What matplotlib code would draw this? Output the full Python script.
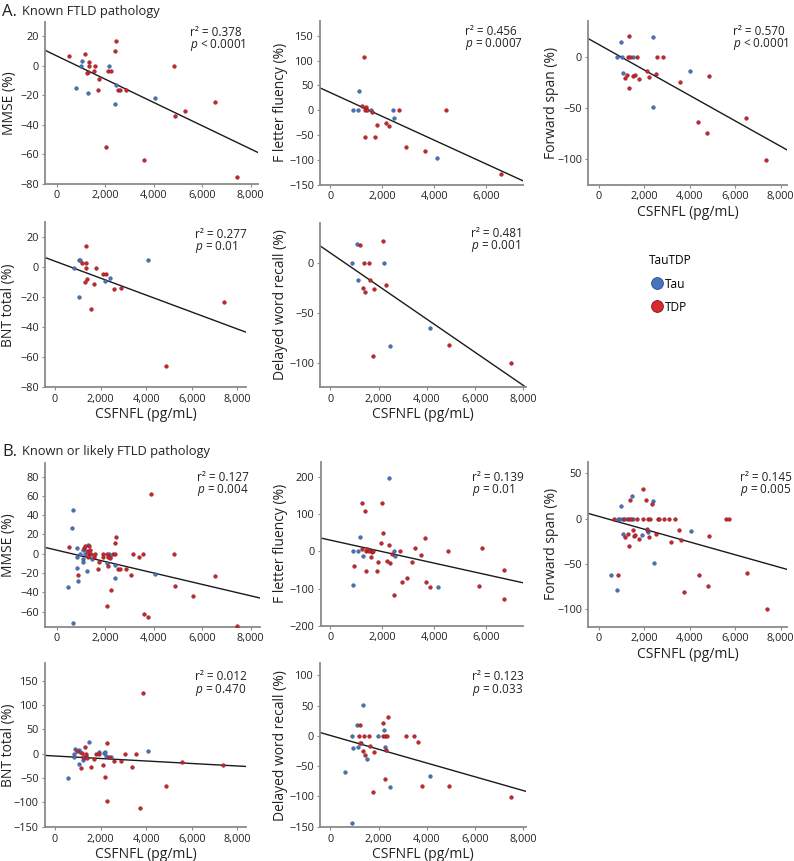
import matplotlib
matplotlib.use("Agg")
import matplotlib.pyplot as plt
from matplotlib.ticker import FuncFormatter
from matplotlib.lines import Line2D
import numpy as np

plt.rcParams['font.family'] = ['Open Sans', 'DejaVu Sans']
plt.rcParams['mathtext.fontset'] = 'custom'
plt.rcParams['mathtext.it'] = 'Open Sans:italic'
plt.rcParams['mathtext.rm'] = 'Open Sans'

TAU = '#4a70b8'
TDP = '#c8252d'

# ---- A. Known FTLD pathology ----
mmse_a_tau_x = [1058, 1003, 811, 1292, 2172, 2433, 2405, 4069]
mmse_a_tau_y = [3.4, 0, -15, -18.4, 0, -12.8, -25.6, -22.2]
mmse_a_tdp_x = [522, 1168, 1347, 1347, 1278, 1265, 1594, 1540, 1760, 1691, 2103, 2227,
                2392, 2460, 2543, 2612, 2859, 2048, 4825, 4893, 5306, 6543, 3601, 7450]
mmse_a_tdp_y = [6.5, 8.1, 2.7, 0, -4, -5, 0, -3.6, -9.2, -16.6, -3.6, -3.8,
                10.1, 16.9, -16.2, -16.6, -16.6, -54.8, 0, -34.2, -30.8, -24.3, -63.6, -75.3]

flf_a_tau_x = [859, 1064, 1103, 1564, 2423, 2461, 4102]
flf_a_tau_y = [0, 0, 39.5, 0, 0, -16, -95.8]
flf_a_tdp_x = [1308, 1205, 1372, 1320, 1423, 1590, 1346, 1731, 1795, 2154, 2256, 2628,
               2897, 3654, 4449, 6564]
flf_a_tdp_y = [107.8, 8.7, 6, 0, 0, -4, -53.6, -53, -30, -25, -32, 0,
               -73, -81.7, 0, -128]

fwd_a_tau_x = [807, 969, 1028, 1072, 1512, 2363, 2393, 4022]
fwd_a_tau_y = [0, 14, 0, -16.2, 0, 19.2, -49, -14.3]
fwd_a_tdp_x = [1160, 1248, 1336, 1292, 1380, 1307, 1512, 1571, 1688, 1747, 2099, 2187,
               2496, 2569, 2833, 3582, 4375, 4771, 4830, 6489, 7355]
fwd_a_tdp_y = [-20.8, -17.5, 19.8, 0, 0, -30.5, -19.2, -17.5, 0, -21.8, -14.3, -20.1,
               -16.6, 0, 0, -24.4, -63.3, -74.7, -19.2, -59.7, -100.6]

bnt_a_tau_x = [848, 1038, 1038, 1111, 2179, 2428, 4066]
bnt_a_tau_y = [-0.7, -19.8, 4.7, 4.7, -9.1, -7.1, 4.7]
bnt_a_tdp_x = [1185, 1346, 1360, 1375, 1419, 1316, 1726, 1594, 1784, 2121, 2238, 2603,
               2881, 7415, 4885]
bnt_a_tdp_y = [2.9, 13.8, 2.9, -0.7, -7.8, -9.6, -11.1, -27.8, -0.7, -4.4, -4.9, -14.9,
               -14.2, -23.3, -66]

dwr_a_tau_x = [884, 1092, 1147, 2239, 2488, 4146]
dwr_a_tau_y = [0, 19, -17.7, 0, -83.7, -65.3]
dwr_a_tdp_x = [1244, 1382, 1603, 1354, 1451, 1645, 1824, 2184, 2294, 1783, 4934, 7504]
dwr_a_tdp_y = [18, 0, 0, -25.3, -29.7, -17.3, -26, 21.7, -22.3, -93, -82.7, -100.7]

# ---- B. Known or likely FTLD pathology ----
mmse_b_tau_x = [660, 481, 619, 660, 825, 853, 880, 853, 963, 1073, 1100, 1100, 1183, 1265,
                1279, 1444, 2063, 2173, 2393, 2420, 4070, 2200]
mmse_b_tau_y = [45.5, -34.5, 27.2, -71.7, 5.5, -14.8, -28.3, -3.1, 0, 4.1, -5.5, -9, -0.7,
                -18.3, 8.6, -5.2, -9.7, 0, -24.8, -12.1, -21.4, -3.8]
mmse_b_tdp_x = [522, 866, 1141, 1183, 1265, 1320, 1347, 1375, 1402, 1292, 1554, 1595, 1691,
                1760, 1925, 1925, 2063, 2131, 2200, 2131, 2255, 2063, 2338, 2393, 2393, 2462,
                2530, 2599, 2860, 3066, 3163, 3383, 3548, 3603, 3754, 3905, 4826, 4881, 5610,
                6545, 7453]
mmse_b_tdp_y = [7.2, -22, 5.5, 8.3, 2.4, 0, 7.6, 3.4, 0, -3.4, -3.4, 0, -16.2,
                -8.6, 0, -3.4, 0, -3.8, -4.5, -13.1, -37.9, -53.8, 0, 0, 10.7, 17.2,
                -15.5, -16.2, -16.2, -22, 0, -3.8, 0, -62, -65.2, 62, 0, -33.4, -44.1,
                -23.4, -74.5]

flf_b_tau_x = [885, 885, 1077, 1141, 1244, 1590, 2269, 2461, 2487, 4154]
flf_b_tau_y = [0, -90.7, 0, 39, -11.6, 0, 195.6, 0, -13.3, -95]
flf_b_tdp_x = [923, 1218, 1218, 1346, 1372, 1372, 1423, 1474, 1551, 1603, 1654, 1782, 1833,
               1949, 2000, 2013, 2180, 2256, 2308, 2385, 2436, 2667, 2743, 2961, 3141, 3244,
               3474, 3628, 3692, 3846, 4513, 5718, 5833, 6692, 6667]
flf_b_tdp_y = [-39, 130.7, 6.2, 107.6, 0, -53.3, 6.2, 0, -15.1, -1.8, 0, -53.3, -29.3,
               22.2, 128.9, 48, -24.9, 16, -31.1, -6.2, -117.3, 0, -82.7, -72, -29.3, 9.8,
               -9.8, 36.4, -80.9, -96, 0, -92.4, 9.8, -48.9, -127]

fwd_b_tau_x = [514, 807, 837, 984, 1072, 925, 1072, 1218, 1468, 1512, 1908, 2129, 2173, 2393,
               2422, 4066]
fwd_b_tau_y = [-63, -79.6, 0, 14, -16.7, 0, 0, 0, 24.8, 0, -17.8, -11.1, -14.8, 19.6,
               -49.3, -14.4]
fwd_b_tdp_x = [661, 851, 1101, 1160, 1277, 1307, 1336, 1351, 1395, 1512, 1556, 1585, 1688,
               1747, 1923, 1938, 2070, 2099, 2173, 2246, 2217, 2319, 2496, 2584, 2657, 2848,
               3068, 3156, 3347, 3523, 3597, 3743, 4404, 4800, 4859, 5593, 5710, 6518, 7399]
fwd_b_tdp_y = [0, -63, 0, -20.4, -17.4, 0, -30.7, 20, 0, -13, -19.3, -17.8, 0,
               -22.2, 0, 32.2, 20, -13, 0, 0, -20.4, 15.9, -16.7, 0, 0, 0,
               0, -25.6, 0, -12.2, -24.1, -81.9, -63, -74.4, -19.6, 0, 0, -60, -100.7]

bnt_b_tau_x = [556, 834, 834, 892, 1038, 1097, 1038, 1214, 1287, 1360, 1477, 1945, 2150, 2208,
               2238, 2442, 4066]
bnt_b_tau_y = [-50, -6.2, -0.7, 10.3, 7.5, 4.1, -19.9, -13, -9.6, -4.8, 24.7, 3.4, 0.7, 3.4,
               -4.8, -7.5, 5.5]
bnt_b_tdp_x = [980, 1141, 1199, 1243, 1331, 1360, 1419, 1565, 1726, 1784, 1945, 2121, 2208,
               2267, 2296, 2369, 2603, 2881, 3071, 3378, 3539, 3729, 3876, 4870, 5572, 7386]
bnt_b_tdp_y = [4.8, -29.5, 0.7, -6.2, 14.4, -0.7, -8.2, -28.1, -11.6, -1.4, 0, -24, -47.9,
               -96.6, 22.6, -6.8, -14.4, -14.4, 0, -28.1, 0, -112.3, 124, -65.8, -17.1, -23.3]

dwr_b_tau_x = [594, 898, 954, 898, 1092, 1147, 1258, 1354, 1534, 1990, 2225, 2267, 2488, 4146]
dwr_b_tau_y = [-59, 0, -20.4, -143.5, 18.8, -17.7, -11, 51.9, -38.1, 0, 9.9, -18.8, -85, -66.2]
dwr_b_tdp_x = [1202, 1244, 1230, 1396, 1368, 1451, 1617, 1645, 1824, 1783, 2170, 2170, 2267,
               2349, 2391, 2294, 2267, 3137, 3455, 3621, 3814, 4934, 7504]
dwr_b_tdp_y = [0, 17.7, -11.6, 0, -25.4, -30.9, 0, -17.1, -27, -93.3, 21.5, 0, 0,
               0, 30.9, -23.2, -71.7, 0, 0, -10.5, -82.2, -82.2, -101.5]

# regression lines: (intercept, slope per pg/mL)
fit_a = [(6.6, -0.00787), (35.6, -0.02392), (11.7, -0.01238), (3.9, -0.005636), (9.8, -0.01658)]
fit_b = [(3.75, -0.00592), (29.9, -0.0154), (2.27, -0.007086), (-4.5, -0.002563), (0.77, -0.01139)]
r2_a = ['0.378', '0.456', '0.570', '0.277', '0.481']
p_a = ['< 0.0001', '= 0.0007', '< 0.0001', '= 0.01', '= 0.001']
r2_b = ['0.127', '0.139', '0.145', '0.012', '0.123']
p_b = ['= 0.004', '= 0.01', '= 0.005', '= 0.470', '= 0.033']

ylabels = ['MMSE (%)', 'F letter fluency (%)', 'Forward span (%)', 'BNT total (%)',
           'Delayed word recall (%)']

W, H = 794, 861
fig = plt.figure(figsize=(W / 100, H / 100), dpi=100)


def px_axes(x0, x1, y0, y1):
    return fig.add_axes([x0 / W, 1 - y1 / H, (x1 - x0) / W, (y1 - y0) / H])


fmt = FuncFormatter(lambda v, p: f'{v:,.0f}'.replace('-', '\u2212'))


def panel(box, tx, ty, dx, dy, fit, r2, pv, ylabel, xlim, ylim, yticks, xticks,
          xlabel, txt_x, txt_y, ylab_px):
    ax = px_axes(*box)
    ax.set_xlim(*xlim)
    ax.set_ylim(*ylim)
    xs = np.array(xlim)
    ax.plot(xs, fit[0] + fit[1] * xs, color='#1a1a1a', lw=1.0, zorder=2)
    ax.scatter(tx, ty, s=7, color=TAU, edgecolor='#2c4a80', linewidth=0.3, zorder=3)
    ax.scatter(dx, dy, s=7, color=TDP, edgecolor='#7a1418', linewidth=0.3, zorder=3)
    ax.set_xticks(xticks)
    ax.set_yticks(yticks)
    ax.xaxis.set_major_formatter(fmt)
    ax.yaxis.set_major_formatter(fmt)
    for s in ['top', 'right']:
        ax.spines[s].set_visible(False)
    for s in ['left', 'bottom']:
        ax.spines[s].set_color('#8a8a8a')
        ax.spines[s].set_linewidth(1.3)
    ax.tick_params(labelsize=7.8, length=2.5, width=0.8, color='#8a8a8a',
                   labelcolor='#222222', pad=2)
    ax.set_ylabel(ylabel, fontsize=10, color='#222222')
    # label anchor is the right side of the rotated text
    ax.yaxis.set_label_coords((ylab_px + 7 - box[0]) / (box[1] - box[0]), 0.5)
    if xlabel:
        ax.set_xlabel('CSFNFL (pg/mL)', fontsize=10, color='#222222', labelpad=2)
    ax.text(txt_x, txt_y, f'r\u00b2 = {r2}', transform=ax.transAxes, fontsize=8.5,
            ha='left', va='center', color='#222222')
    ax.annotate(f'$p$ {pv}', xy=(txt_x, txt_y), xycoords='axes fraction',
                xytext=(0, -9.2), textcoords='offset points', fontsize=8.5,
                ha='left', va='center', color='#222222')
    return ax


x8 = [0, 2000, 4000, 6000, 8000]
x6 = [0, 2000, 4000, 6000]

# row A1
panel((45, 258, 22, 184), mmse_a_tau_x, mmse_a_tau_y, mmse_a_tdp_x, mmse_a_tdp_y,
      fit_a[0], r2_a[0], p_a[0], ylabels[0], (-482, 8300), (-80, 29.5),
      [20, 0, -20, -40, -60, -80], x8, False, 0.68, 0.938, 9.5)
panel((320.3, 523.3, 20.7, 185), flf_a_tau_x, flf_a_tau_y, flf_a_tdp_x, flf_a_tdp_y,
      fit_a[1], r2_a[1], p_a[1], ylabels[1], (-385, 7420), (-150, 180),
      [150, 100, 50, 0, -50, -100, -150], x6, False, 0.713, 0.933, 281.5)
panel((588.3, 786.7, 20.7, 185), fwd_a_tau_x, fwd_a_tau_y, fwd_a_tdp_x, fwd_a_tdp_y,
      fit_a[2], r2_a[2], p_a[2], ylabels[2], (-470, 8268), (-125, 35),
      [0, -50, -100], x8, True, 0.729, 0.933, 552)
# row A2
panel((45, 246, 222.3, 387.3), bnt_a_tau_x, bnt_a_tau_y, bnt_a_tdp_x, bnt_a_tdp_y,
      fit_a[3], r2_a[3], p_a[3], ylabels[3], (-439, 8380), (-80, 29.8),
      [20, 0, -20, -40, -60, -80], x8, True, 0.746, 0.929, 9)
panel((320.3, 526, 222.7, 387.3), dwr_a_tau_x, dwr_a_tau_y, dwr_a_tdp_x, dwr_a_tdp_y,
      fit_a[4], r2_a[4], p_a[4], ylabels[4], (-415, 8110), (-124.7, 40),
      [0, -50, -100], x8, True, 0.731, 0.936, 281)
# row B1
panel((45, 260, 462.7, 627), mmse_b_tau_x, mmse_b_tau_y, mmse_b_tdp_x, mmse_b_tdp_y,
      fit_b[0], r2_b[0], p_b[0], ylabels[0], (-481, 8390), (-76, 94.5),
      [80, 60, 40, 20, 0, -20, -40, -60], x8, False, 0.706, 0.911, 9)
panel((320.7, 523.3, 461.7, 626), flf_b_tau_x, flf_b_tau_y, flf_b_tdp_x, flf_b_tdp_y,
      fit_b[1], r2_b[1], p_b[1], ylabels[1], (-372, 7423), (-198, 240),
      [200, 100, 0, -100, -200], x6, False, 0.747, 0.905, 281.5)
panel((588.3, 786.7, 461.7, 626.7), fwd_b_tau_x, fwd_b_tau_y, fwd_b_tdp_x, fwd_b_tdp_y,
      fit_b[2], r2_b[2], p_b[2], ylabels[2], (-470, 8265), (-120, 63),
      [50, 0, -50, -100], x8, True, 0.765, 0.905, 552)
# row B2
panel((45, 246, 663.3, 827.3), bnt_b_tau_x, bnt_b_tau_y, bnt_b_tdp_x, bnt_b_tdp_y,
      fit_b[3], r2_b[3], p_b[3], ylabels[3], (-439, 8380), (-151, 186),
      [150, 100, 50, 0, -50, -100, -150], x8, True, 0.746, 0.918, 9)
panel((320.3, 526, 663.3, 827.3), dwr_b_tau_x, dwr_b_tau_y, dwr_b_tdp_x, dwr_b_tdp_y,
      fit_b[4], r2_b[4], p_b[4], ylabels[4], (-415, 8112), (-151, 120),
      [100, 50, 0, -50, -100, -150], x8, True, 0.737, 0.918, 281)

# section titles
fig.text(2 / W, 1 - 12 / H, 'A.', fontsize=12, va='center', ha='left', color='#222222')
fig.text(21.5 / W, 1 - 12 / H, 'Known FTLD pathology', fontsize=9.3, va='center',
         ha='left', color='#222222')
fig.text(2 / W, 1 - 451.7 / H, 'B.', fontsize=12, va='center', ha='left', color='#222222')
fig.text(21.5 / W, 1 - 451.7 / H, 'Known or likely FTLD pathology', fontsize=9.3,
         va='center', ha='left', color='#222222')

# legend
handles = [Line2D([], [], marker='o', ls='', markersize=8.5, markerfacecolor='#4a73c0',
                  markeredgecolor='#2c4a80', markeredgewidth=0.6),
           Line2D([], [], marker='o', ls='', markersize=8.5, markerfacecolor='#d42a30',
                  markeredgecolor='#7a1418', markeredgewidth=0.6)]
fig.legend(handles, ['Tau', 'TDP'], title='TauTDP', loc='upper left',
           bbox_to_anchor=(641 / W, 1 - 246 / H), frameon=False, fontsize=8.6,
           title_fontsize=8.6, handletextpad=0.1, labelspacing=0.85, alignment='left',
           handlelength=1.2, borderpad=0.2)

fig.savefig('out.png', dpi=100)
